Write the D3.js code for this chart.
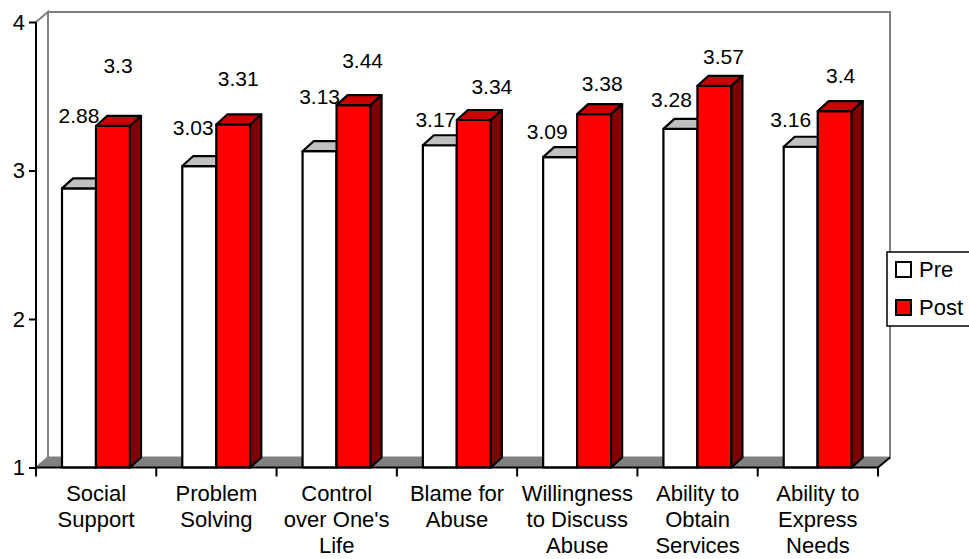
<!DOCTYPE html>
<html>
<head>
<meta charset="utf-8">
<script src="https://cdn.jsdelivr.net/npm/d3@7"></script>
<style>
  html, body { margin: 0; padding: 0; background: #fff; }
  svg { display: block; }
  text { font-family: "Liberation Sans", Arial, sans-serif; fill: #000; }
</style>
</head>
<body>
<svg id="chart" width="969" height="559"></svg>
<script>
// ---- data ----
const categoryLines = [
  ["Social", "Support"],
  ["Problem", "Solving"],
  ["Control", "over One's", "Life"],
  ["Blame for", "Abuse"],
  ["Willingness", "to Discuss", "Abuse"],
  ["Ability to", "Obtain", "Services"],
  ["Ability to", "Express", "Needs"]
];
const categories = categoryLines.map(l => l.join(" "));
const seriesNames = ["Pre", "Post"];
const preValues  = [2.88, 3.03, 3.13, 3.17, 3.09, 3.28, 3.16];
const postValues = [3.3, 3.31, 3.44, 3.34, 3.38, 3.57, 3.4];
const yTicks = [1, 2, 3, 4];

// ---- layout ----
const W = 969, H = 559;
const plot = { left: 36, right: 878, top: 22, bottom: 467.5 };
const depth = { dx: 12, dy: 10 };      // wall / floor depth
const barDepth = { dx: 11, dy: 10 };   // column depth
// label nudges [dx, dy] relative to the column's front-top centre
const preLabelShift  = [[0,-65],[-6,-31],[0,-47],[-4,-18],[-13,-18],[-9,-22],[-10,-20]];
const postLabelShift = [[5,-53],[5,-38],[9,-37],[18,-26],[8,-23],[9,-22],[6,-28]];

const colors = {
  Pre:  { front: "#ffffff", top: "#c0c0c0", side: "#c0c0c0" },
  Post: { front: "#ff0000", top: "#cc0000", side: "#800000" }
};

const svg = d3.select("#chart");
const fontSize = 21;
const catFontSize = 22;

const x = d3.scaleBand().domain(categories).range([plot.left, plot.right]).padding(0);
const inner = d3.scaleBand().domain(seriesNames).range([26, 94]).padding(0);
const y = d3.scaleLinear().domain([1, 4]).range([plot.bottom, plot.top]);

// ---- walls and floor ----
const g = svg.append("g");
// back wall
g.append("rect")
  .attr("x", plot.left + depth.dx).attr("y", plot.top - depth.dy)
  .attr("width", plot.right - plot.left).attr("height", plot.bottom - plot.top)
  .attr("fill", "#fff").attr("stroke", "#808080").attr("stroke-width", 2);
// side wall
g.append("polygon")
  .attr("points", [
    [plot.left, plot.top], [plot.left + depth.dx, plot.top - depth.dy],
    [plot.left + depth.dx, plot.bottom - depth.dy], [plot.left, plot.bottom]
  ].map(p => p.join(",")).join(" "))
  .attr("fill", "#fff").attr("stroke", "#808080").attr("stroke-width", 2);
// floor
g.append("polygon")
  .attr("points", [
    [plot.left, plot.bottom], [plot.right, plot.bottom],
    [plot.right + depth.dx, plot.bottom - depth.dy], [plot.left + depth.dx, plot.bottom - depth.dy]
  ].map(p => p.join(",")).join(" "))
  .attr("fill", "#808080").attr("stroke", "#808080").attr("stroke-width", 1);
g.append("line")
  .attr("x1", plot.right).attr("y1", plot.bottom)
  .attr("x2", plot.right + depth.dx).attr("y2", plot.bottom - depth.dy)
  .attr("stroke", "#000").attr("stroke-width", 2);

// ---- columns ----
const rows = categories.map((c, i) => ({ c, i, Pre: preValues[i], Post: postValues[i] }));
const bars = g.append("g");
rows.forEach(r => {
  seriesNames.forEach(s => {
    const v = r[s];
    const x0 = x(r.c) + inner(s);
    const w = inner.bandwidth();
    const y0 = y(1), y1 = y(v);
    const dx = barDepth.dx, dy = barDepth.dy;
    const col = colors[s];
    const bg = bars.append("g").attr("stroke", "#000").attr("stroke-width", 2.2).attr("stroke-linejoin", "round");
    bg.append("rect").attr("x", x0).attr("y", y1).attr("width", w).attr("height", y0 - y1).attr("fill", col.front);
    bg.append("polygon").attr("fill", col.top)
      .attr("points", [[x0, y1], [x0 + dx, y1 - dy], [x0 + w + dx, y1 - dy], [x0 + w, y1]].map(p => p.join(",")).join(" "));
    bg.append("polygon").attr("fill", col.side)
      .attr("points", [[x0 + w, y1], [x0 + w + dx, y1 - dy], [x0 + w + dx, y0 - dy], [x0 + w, y0]].map(p => p.join(",")).join(" "));
  });
});

// ---- axes ----
const yAxis = d3.axisLeft(y).tickValues(yTicks).tickSize(7).tickPadding(4).tickFormat(d3.format("d"));
const ya = svg.append("g").attr("transform", `translate(${plot.left},0)`).call(yAxis);
ya.select(".domain").attr("stroke", "#000").attr("stroke-width", 2).attr("d", `M0,${plot.top}V${plot.bottom}`);
ya.selectAll(".tick line").attr("stroke", "#000").attr("stroke-width", 2);
ya.selectAll(".tick text").attr("font-size", catFontSize).attr("font-family", "Liberation Sans, Arial, sans-serif").attr("fill", "#000");

// category axis line and boundary ticks
svg.append("line").attr("x1", plot.left).attr("x2", plot.right).attr("y1", plot.bottom).attr("y2", plot.bottom)
  .attr("stroke", "#000").attr("stroke-width", 2);
const bounds = categories.map(c => x(c)).concat([plot.right]);
svg.append("g").selectAll("line").data(bounds).join("line")
  .attr("x1", d => d).attr("x2", d => d).attr("y1", plot.bottom).attr("y2", plot.bottom + 9)
  .attr("stroke", "#000").attr("stroke-width", 2);

// category labels
const cl = svg.append("g").attr("text-anchor", "middle").attr("font-size", catFontSize);
categoryLines.forEach((lines, i) => {
  const t = cl.append("text").attr("x", x(categories[i]) + x.bandwidth() / 2).attr("y", 501);
  lines.forEach((ln, k) => t.append("tspan").attr("x", x(categories[i]) + x.bandwidth() / 2).attr("dy", k === 0 ? 0 : 26).text(ln));
});

// ---- value labels ----
const vl = svg.append("g").attr("text-anchor", "middle").attr("font-size", fontSize);
rows.forEach(r => {
  seriesNames.forEach(s => {
    const shift = (s === "Pre" ? preLabelShift : postLabelShift)[r.i];
    const cx = x(r.c) + inner(s) + inner.bandwidth() / 2 + shift[0];
    vl.append("text").attr("x", cx).attr("y", y(r[s]) + shift[1]).text(String(r[s]));
  });
});

// ---- legend ----
const lg = svg.append("g");
lg.append("rect").attr("x", 887).attr("y", 252).attr("width", 90).attr("height", 74)
  .attr("fill", "#fff").attr("stroke", "#000").attr("stroke-width", 1.5);
seriesNames.forEach((s, k) => {
  const yy = 262 + k * 38;
  lg.append("rect").attr("x", 896).attr("y", yy).attr("width", 15).attr("height", 15)
    .attr("fill", colors[s].front).attr("stroke", "#000").attr("stroke-width", 2);
  lg.append("text").attr("x", 919).attr("y", yy + 15).attr("font-size", catFontSize).text(s);
});
</script>
</body>
</html>
